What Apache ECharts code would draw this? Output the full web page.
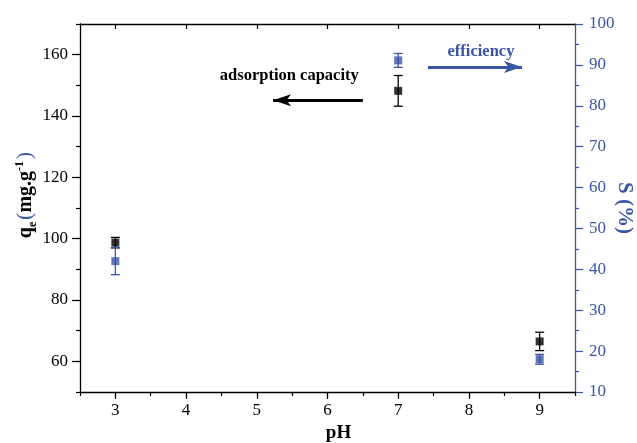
<!DOCTYPE html>
<html>
<head>
<meta charset="utf-8">
<script src="https://cdn.jsdelivr.net/npm/echarts@6/dist/echarts.min.js"></script>
<style>html,body{margin:0;padding:0;background:#fff}#c{width:637px;height:443px}</style>
</head>
<body>
<div id="c"></div>
<script>
// ---- data ----
const pH = [3, 7, 9];
const qe = [98.7, 148.2, 66.5];
const qeErr = [1.7, 5.0, 3.0];
const S = [42.0, 91.1, 18.0];
const SErr = [3.3, 1.7, 1.2];
const xTicks = [3, 4, 5, 6, 7, 8, 9];
const leftTicks = [60, 80, 100, 120, 140, 160];
// annotation anchors (data coords)
const capArrow = [[6.5, 145.1], [5.23, 145.1]];
const capText = [5.46, 153.0];
const effArrow = [[7.42, 89.5], [8.75, 89.5]];
const effText = [8.17, 93.2];

const BLUE = '#3a54a6';
const FONT = '"Liberation Serif", "Times New Roman", serif';

const chart = echarts.init(document.getElementById('c'));

function errSeries(name, xs, ys, es, yIdx, color, z) {
  return {
    type: 'custom', name: name, yAxisIndex: yIdx, z: z,
    data: xs.map((x, i) => [x, ys[i] - es[i], ys[i] + es[i]]),
    renderItem: function (params, api) {
      const lo = api.coord([api.value(0), api.value(1)]);
      const hi = api.coord([api.value(0), api.value(2)]);
      const w = 4.5;
      const st = { stroke: color, lineWidth: 1.3 };
      return { type: 'group', children: [
        { type: 'line', shape: { x1: lo[0], y1: lo[1], x2: hi[0], y2: hi[1] }, style: st },
        { type: 'line', shape: { x1: lo[0] - w, y1: lo[1], x2: lo[0] + w, y2: lo[1] }, style: st },
        { type: 'line', shape: { x1: hi[0] - w, y1: hi[1], x2: hi[0] + w, y2: hi[1] }, style: st }
      ]};
    }
  };
}

const tickLbl = { fontFamily: FONT, fontSize: 17, color: '#000' };

chart.setOption({
  animation: false,
  textStyle: { fontFamily: FONT },
  grid: { left: 80, right: 62, top: 24, bottom: 51, containLabel: false, outerBoundsMode: 'none' },
  xAxis: [
    { type: 'value', position: 'bottom', min: 2.5, max: 9.5, interval: 0.5,
      axisLine: { show: true, lineStyle: { color: '#000', width: 1.3 } },
      axisTick: { show: true, inside: false, length: 4, lineStyle: { color: '#000', width: 1.2 } },
      axisLabel: { ...tickLbl, margin: 10, customValues: xTicks,
        formatter: v => (Math.abs(v - Math.round(v)) < 1e-6 ? String(Math.round(v)) : '') },
      splitLine: { show: false },
      name: 'pH', nameLocation: 'middle', nameGap: 30,
      nameTextStyle: { fontFamily: FONT, fontSize: 19, fontWeight: 'bold', color: '#000', padding: [0, 0, 0, 22] } },
    { type: 'value', position: 'bottom', min: 2.5, max: 9.5, interval: 0.5,
      axisLine: { show: false },
      axisTick: { show: true, inside: false, length: 7, customValues: xTicks, lineStyle: { color: '#000', width: 1.2 } },
      axisLabel: { show: false }, splitLine: { show: false } },
    { type: 'value', position: 'top', min: 2.5, max: 9.5, interval: 0.5,
      axisLine: { show: true, lineStyle: { color: '#000', width: 1.3 } },
      axisTick: { show: true, inside: true, length: 5, customValues: xTicks, lineStyle: { color: '#000', width: 1.2 } },
      axisLabel: { show: false }, splitLine: { show: false } }
  ],
  yAxis: [
    { type: 'value', position: 'left', min: 50, max: 170, interval: 10,
      axisLine: { show: true, lineStyle: { color: '#000', width: 1.3 } },
      axisTick: { show: true, inside: false, length: 4, lineStyle: { color: '#000', width: 1.2 } },
      axisLabel: { ...tickLbl, margin: 12, customValues: leftTicks,
        formatter: v => (v % 20 === 0 && v >= 60 ? String(v) : '') },
      splitLine: { show: false },
      name: '{q|q}{e|e}{sp| }{p|(}{m|mg.g}{s|-1}{sp| }{p|)}', nameLocation: 'middle', nameGap: 44, nameRotate: 90,
      nameMoveOverlap: false,
      nameTextStyle: { padding: [0, 0, 0, 26],
        rich: {
          q: { fontFamily: FONT, fontSize: 20, fontWeight: 'bold', color: '#000', verticalAlign: 'bottom' },
          e: { fontFamily: FONT, fontSize: 12, fontWeight: 'bold', color: '#000', verticalAlign: 'bottom', padding: [0, 0, -3, 0] },
          sp: { fontSize: 7 },
          p: { fontFamily: FONT, fontSize: 22, color: BLUE, verticalAlign: 'bottom' },
          m: { fontFamily: FONT, fontSize: 20, fontWeight: 'bold', color: '#000', verticalAlign: 'bottom' },
          s: { fontFamily: FONT, fontSize: 12, fontWeight: 'bold', color: '#000', verticalAlign: 'top' }
        } } },
    { type: 'value', position: 'left', min: 50, max: 170, interval: 10,
      axisLine: { show: false },
      axisTick: { show: true, inside: false, length: 8, customValues: leftTicks, lineStyle: { color: '#000', width: 1.2 } },
      axisLabel: { show: false }, splitLine: { show: false } },
    { type: 'value', position: 'right', min: 10, max: 100, interval: 10,
      axisLine: { show: true, lineStyle: { color: BLUE, width: 1.3 } },
      axisTick: { show: true, inside: false, length: 8, lineStyle: { color: BLUE, width: 1.2 } },
      minorTick: { show: true, splitNumber: 2, length: 4, lineStyle: { color: BLUE, width: 1.2 } },
      axisLabel: { fontFamily: FONT, fontSize: 17, color: BLUE, margin: 14 },
      splitLine: { show: false }, minorSplitLine: { show: false },
      name: 'S (%)', nameLocation: 'middle', nameGap: 39, nameRotate: -90,
      nameMoveOverlap: false,
      nameTextStyle: { fontFamily: FONT, fontSize: 21, fontWeight: 'bold', color: BLUE } }
  ],
  series: [
    errSeries('qeErr', pH, qe, qeErr, 0, '#000', 3),
    { type: 'scatter', name: 'qe', yAxisIndex: 0, z: 4, symbol: 'rect', symbolSize: 8,
      itemStyle: { color: '#000' },
      data: pH.map((x, i) => [x, qe[i]]),
      markLine: { silent: true, symbol: ['none', 'arrow'], symbolSize: [9, 18],
        lineStyle: { color: '#000', width: 3, type: 'solid' }, label: { show: false },
        data: [[{ coord: capArrow[0] }, { coord: capArrow[1] }]] },
      markPoint: { silent: true, symbol: 'circle', symbolSize: 0,
        label: { show: true, position: 'inside', formatter: 'adsorption capacity',
          fontFamily: FONT, fontSize: 16.5, fontWeight: 'bold', color: '#000' },
        data: [{ coord: capText }] } },
    errSeries('SErr', pH, S, SErr, 2, BLUE, 5),
    { type: 'scatter', name: 'S', yAxisIndex: 2, z: 6, symbol: 'rect', symbolSize: 8,
      itemStyle: { color: BLUE },
      data: pH.map((x, i) => [x, S[i]]),
      markLine: { silent: true, symbol: ['none', 'arrow'], symbolSize: [9, 18],
        lineStyle: { color: BLUE, width: 3, type: 'solid' }, label: { show: false },
        data: [[{ coord: effArrow[0] }, { coord: effArrow[1] }]] },
      markPoint: { silent: true, symbol: 'circle', symbolSize: 0,
        label: { show: true, position: 'inside', formatter: 'efficiency',
          fontFamily: FONT, fontSize: 16.5, fontWeight: 'bold', color: BLUE },
        data: [{ coord: effText }] } }
  ]
});
</script>
</body>
</html>
